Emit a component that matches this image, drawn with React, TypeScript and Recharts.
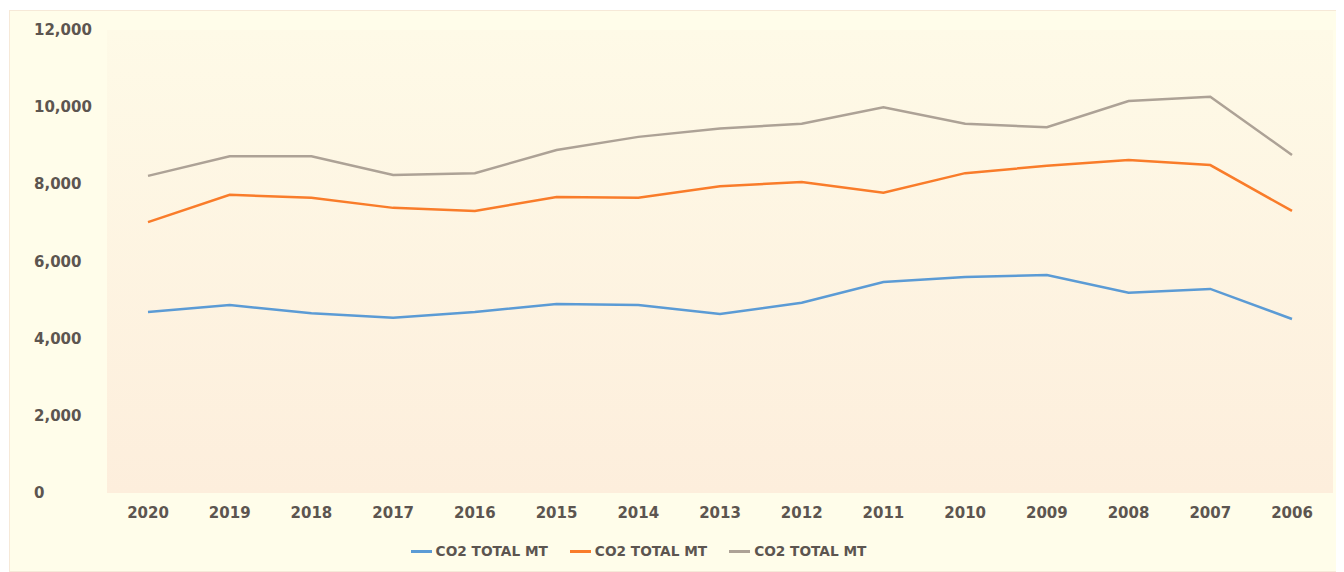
import React from "react";
import { LineChart, Line, XAxis, YAxis, CartesianGrid } from "recharts";

const years = ["2020", "2019", "2018", "2017", "2016", "2015", "2014", "2013", "2012", "2011", "2010", "2009", "2008", "2007", "2006"];
const co2A = [4690, 4870, 4660, 4540, 4690, 4900, 4870, 4640, 4930, 5470, 5600, 5650, 5190, 5290, 4510];
const co2B = [7020, 7730, 7650, 7390, 7310, 7670, 7650, 7950, 8060, 7780, 8290, 8480, 8630, 8500, 7310];
const co2C = [8220, 8730, 8730, 8240, 8290, 8890, 9230, 9450, 9570, 10000, 9570, 9480, 10160, 10270, 8760];
const yTicks = [0, 2000, 4000, 6000, 8000, 10000, 12000];
const seriesNames = ["CO2 TOTAL MT", "CO2 TOTAL MT", "CO2 TOTAL MT"];
const colors = ["#5B9BD5", "#F97C2A", "#ADA296"];

const data = years.map((y, i) => ({ year: y, a: co2A[i], b: co2B[i], c: co2C[i] }));

const textColor = "#5C5550";
const font = "'DejaVu Sans', sans-serif";

const YTick = (props: any) => {
  const { y, payload } = props;
  return (
    <text x={24} y={y} dy={5} textAnchor="start" fill={textColor} fontSize={15} fontWeight="bold" fontFamily={font}>
      {payload.value.toLocaleString("en-US")}
    </text>
  );
};

const XTick = (props: any) => {
  const { x, y, payload } = props;
  return (
    <text x={x} y={y} dy={17} textAnchor="middle" fill={textColor} fontSize={15} fontWeight="bold" fontFamily={font}>
      {payload.value}
    </text>
  );
};

const Legend = () => (
  <div style={{ display: "flex", justifyContent: "center", gap: 22, position: "absolute", left: 0, right: 72, top: 532, fontFamily: font, fontSize: 13.7, fontWeight: "bold", color: textColor }}>
    {seriesNames.map((n, i) => (
      <div key={i} style={{ display: "flex", alignItems: "center" }}>
        <span style={{ display: "inline-block", width: 21, height: 3, background: colors[i], marginRight: 4 }} />
        <span>{n}</span>
      </div>
    ))}
  </div>
);

export default function App() {
  return (
    <div style={{ position: "relative", width: 1329, height: 560, marginLeft: 1, marginTop: 2, background: "#FFFDEA", border: "1px solid #F6E9D8" }}>
      <svg width={0} height={0} style={{ position: "absolute" }}>
        <defs>
          <linearGradient id="plotGrad" x1="0" y1="0" x2="0" y2="1">
            <stop offset="0%" stopColor="#FEFAE7" />
            <stop offset="100%" stopColor="#FDEEDC" />
          </linearGradient>
        </defs>
      </svg>
      <LineChart width={1329} height={560} data={data} margin={{ top: 19, right: 6, bottom: 0, left: 0 }}>
        <CartesianGrid horizontal={false} vertical={false} fill="url(#plotGrad)" />
        <XAxis dataKey="year" axisLine={false} tickLine={false} tick={<XTick />} height={78} padding={{ left: 41, right: 41 }} interval={0} />
        <YAxis domain={[0, 12000]} ticks={yTicks} axisLine={false} tickLine={false} tick={<YTick />} width={97} />
        <Line type="linear" dataKey="a" stroke={colors[0]} strokeWidth={2.5} dot={false} isAnimationActive={false} />
        <Line type="linear" dataKey="b" stroke={colors[1]} strokeWidth={2.5} dot={false} isAnimationActive={false} />
        <Line type="linear" dataKey="c" stroke={colors[2]} strokeWidth={2.5} dot={false} isAnimationActive={false} />
      </LineChart>
      <Legend />
    </div>
  );
}
